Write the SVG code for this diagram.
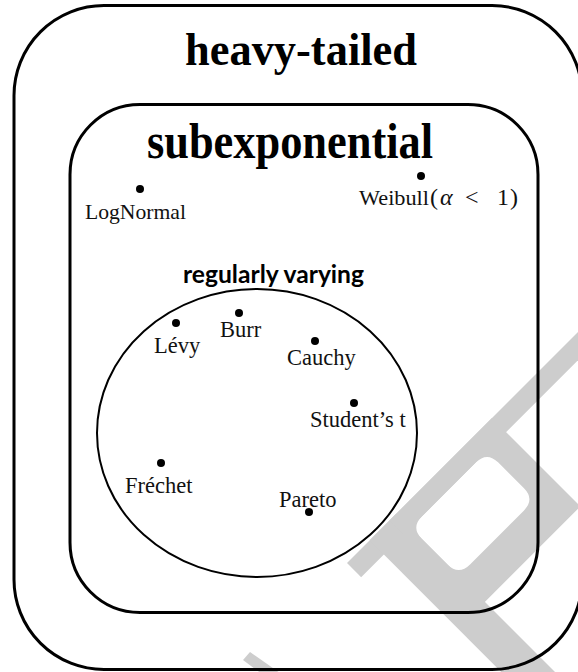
<svg xmlns="http://www.w3.org/2000/svg" width="578" height="672" viewBox="0 0 578 672">
<style>
.box{fill:none;stroke:#000;stroke-width:3}
.circ{fill:none;stroke:#000;stroke-width:2}
.title{font-family:"Liberation Serif",serif;font-weight:bold;fill:#000}
.lbl{font-family:"Liberation Serif",serif;font-size:22.5px;fill:#111}
.lbl2{font-family:"Liberation Serif",serif;font-size:21.7px;fill:#111}
.math{font-family:"Liberation Serif",serif;font-size:24px;fill:#111}
.sans{font-family:Lato,"Liberation Sans",sans-serif;font-weight:bold;font-size:24.5px;fill:#000}
.wm{fill:#cdcdcd}
</style>
<rect width="578" height="672" fill="#fff"/>
<g id="watermark">
<g transform="translate(347,563) rotate(-45)">
<rect class="wm" x="0" y="0" width="380" height="20"/>
<rect class="wm" x="32" y="0" width="38" height="280"/>
<path class="wm" fill-rule="evenodd" d="M60 0 H205 V125 H60 Z M86 20 H162 Q178 20 178 36 V72 Q178 88 162 88 H86 Q70 88 70 72 V36 Q70 20 86 20 Z"/>
</g>
<polygon class="wm" points="243,660 250,652 290,680 270,680"/>
</g>
<g id="heavy-tailed">
<rect class="box" x="14" y="5.5" width="568" height="664" rx="90" ry="90"/>
<text class="title" x="185" y="65" font-size="47" textLength="232" lengthAdjust="spacingAndGlyphs">heavy-tailed</text>
</g>
<g id="subexponential">
<rect class="box" x="70" y="104.5" width="468" height="508" rx="70" ry="70"/>
<text class="title" x="147" y="158" font-size="50" textLength="286" lengthAdjust="spacingAndGlyphs">subexponential</text>
</g>
<g id="regularly-varying">
<ellipse class="circ" cx="257" cy="433" rx="160" ry="144"/>
<text class="sans" x="183" y="283" textLength="181" lengthAdjust="spacingAndGlyphs">regularly varying</text>
</g>
<g id="lognormal"><circle cx="140" cy="189" r="4"/><text class="lbl2" x="85" y="219" textLength="101" lengthAdjust="spacingAndGlyphs">LogNormal</text></g>
<g id="weibull"><circle cx="421" cy="176" r="4"/><text class="lbl2" x="359" y="205" textLength="70" lengthAdjust="spacingAndGlyphs">Weibull</text>
<text class="math" x="430" y="205">(</text><text class="math" x="440" y="205" font-style="italic">α</text><text class="math" x="465" y="205">&lt;</text><text class="math" x="497" y="205">1</text><text class="math" x="510" y="205">)</text></g>
<g id="levy"><circle cx="176" cy="323" r="4"/><text class="lbl" x="154" y="353">Lévy</text></g>
<g id="burr"><circle cx="239" cy="313" r="4"/><text class="lbl" x="220" y="337">Burr</text></g>
<g id="cauchy"><circle cx="315" cy="341" r="4"/><text class="lbl" x="287" y="365">Cauchy</text></g>
<g id="students-t"><circle cx="354" cy="403" r="4"/><text class="lbl" x="310" y="427">Student’s t</text></g>
<g id="frechet"><circle cx="161" cy="463" r="4"/><text class="lbl" x="125" y="493">Fréchet</text></g>
<g id="pareto"><circle cx="309" cy="512" r="4"/><text class="lbl" x="279" y="507">Pareto</text></g>
</svg>
